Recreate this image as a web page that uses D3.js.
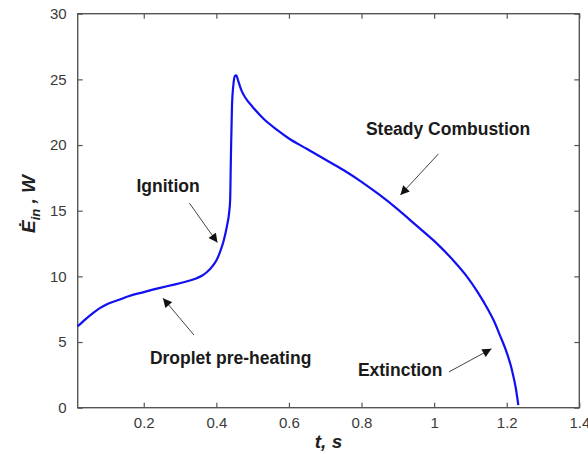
<!DOCTYPE html>
<html>
<head>
<meta charset="utf-8">
<script src="https://cdn.jsdelivr.net/npm/d3@7"></script>
<style>
  html, body { margin: 0; padding: 0; background: #fff; }
  svg { display: block; }
</style>
</head>
<body>
<script>
// Input power of a burning droplet over time
const timeS = [
  0.018, 0.04, 0.06, 0.08, 0.10, 0.13, 0.16, 0.20, 0.245, 0.28, 0.31, 0.34, 0.36, 0.375,
  0.39, 0.40, 0.41, 0.42, 0.429, 0.435, 0.438, 0.440, 0.443, 0.447, 0.451, 0.455,
  0.46, 0.47, 0.48, 0.50, 0.53, 0.57, 0.60, 0.65, 0.70, 0.75, 0.80, 0.85, 0.90, 0.95,
  1.00, 1.05, 1.09, 1.12, 1.15, 1.165, 1.18, 1.20, 1.215, 1.225, 1.232
];
const powerW = [
  6.2, 6.75, 7.2, 7.6, 7.9, 8.2, 8.5, 8.8, 9.12, 9.35, 9.55, 9.8, 10.05, 10.35,
  10.8, 11.2, 11.85, 12.7, 13.8, 14.8, 15.8, 18.9, 22.9, 24.6, 25.25, 25.3,
  24.9, 24.1, 23.6, 22.9, 22.0, 21.1, 20.5, 19.7, 18.9, 18.1, 17.2, 16.2, 15.1, 13.9,
  12.7, 11.3, 10.0, 8.8, 7.4, 6.6, 5.6, 4.2, 2.8, 1.5, 0.2
];

const xTicks = [0.2, 0.4, 0.6, 0.8, 1.0, 1.2, 1.4];
const yTicks = [0, 5, 10, 15, 20, 25, 30];
const xDomain = [0.018, 1.4];
const yDomain = [0, 30];

// Phase labels with arrow [tail, head] in data units
const phaseLabels = ["Ignition", "Steady Combustion", "Droplet pre-heating", "Extinction"];
const labelAt = [[0.18, 16.45], [0.812, 20.75], [0.217, 3.3], [0.79, 2.45]];
const arrowFrom = [[0.326, 15.57], [1.012, 19.33], [0.338, 5.54], [1.041, 2.73]];
const arrowTo = [[0.403, 12.57], [0.907, 16.2], [0.253, 8.34], [1.158, 4.48]];

const W = 588, H = 454;
const margin = { left: 77.7, right: W - 579.3, top: 13.7, bottom: H - 407.7 };

const svg = d3.select("body").append("svg")
  .attr("width", W).attr("height", H)
  .style("font-family", "'Liberation Sans', Arial, sans-serif");

const x = d3.scaleLinear().domain(xDomain).range([margin.left, W - margin.right]);
const y = d3.scaleLinear().domain(yDomain).range([H - margin.bottom, margin.top]);

const axisColor = "#555";
const tickColor = "#3a3a3a";
const tickLen = 5;

// Box frame with inward ticks on all four sides
function styleAxis(g) {
  g.select(".domain").remove();
  g.selectAll(".tick line").attr("stroke", axisColor).attr("stroke-width", 1.2);
  g.selectAll(".tick text").attr("fill", tickColor).style("font-size", "15px");
}

svg.append("g")
  .attr("transform", `translate(0,${y(0)})`)
  .call(d3.axisBottom(x).tickValues(xTicks).tickFormat(d3.format("~g"))
    .tickSizeInner(-tickLen).tickSizeOuter(0).tickPadding(10))
  .call(styleAxis);

svg.append("g")
  .attr("transform", `translate(0,${y(30)})`)
  .call(d3.axisTop(x).tickValues(xTicks).tickFormat("")
    .tickSizeInner(-tickLen).tickSizeOuter(0))
  .call(styleAxis);

svg.append("g")
  .attr("transform", `translate(${x(xDomain[0])},0)`)
  .call(d3.axisLeft(y).tickValues(yTicks).tickFormat(d3.format("~g"))
    .tickSizeInner(-tickLen).tickSizeOuter(0).tickPadding(11))
  .call(styleAxis);

svg.append("g")
  .attr("transform", `translate(${x(1.4)},0)`)
  .call(d3.axisRight(y).tickValues(yTicks).tickFormat("")
    .tickSizeInner(-tickLen).tickSizeOuter(0))
  .call(styleAxis);

svg.append("rect")
  .attr("x", x(xDomain[0])).attr("y", y(30))
  .attr("width", x(1.4) - x(xDomain[0])).attr("height", y(0) - y(30))
  .attr("fill", "none").attr("stroke", axisColor).attr("stroke-width", 1.4);

// Power curve
const pts = timeS.map((t, i) => [t, powerW[i]]);
const line = d3.line().x(d => x(d[0])).y(d => y(d[1])).curve(d3.curveMonotoneX);
svg.append("path")
  .datum(pts)
  .attr("d", line)
  .attr("fill", "none")
  .attr("stroke", "#1010f0")
  .attr("stroke-width", 2.2)
  .attr("stroke-linejoin", "round");

// Arrowhead marker
svg.append("defs").append("marker")
  .attr("id", "head")
  .attr("viewBox", "0 0 10 10")
  .attr("refX", 10).attr("refY", 5)
  .attr("markerUnits", "userSpaceOnUse")
  .attr("markerWidth", 11).attr("markerHeight", 9)
  .attr("orient", "auto")
  .append("path").attr("d", "M0,0 L10,5 L0,10 Z").attr("fill", "#111");

const notes = svg.append("g");
phaseLabels.forEach((txt, i) => {
  notes.append("line")
    .attr("x1", x(arrowFrom[i][0])).attr("y1", y(arrowFrom[i][1]))
    .attr("x2", x(arrowTo[i][0])).attr("y2", y(arrowTo[i][1]))
    .attr("stroke", "#444").attr("stroke-width", 1)
    .attr("marker-end", "url(#head)");
  notes.append("text")
    .attr("x", x(labelAt[i][0])).attr("y", y(labelAt[i][1]))
    .attr("fill", "#1a1a1a")
    .style("font-size", "17.5px").style("font-weight", "bold")
    .text(txt);
});

// Axis titles
svg.append("text")
  .attr("x", (x(xDomain[0]) + x(1.4)) / 2).attr("y", 448)
  .attr("text-anchor", "middle")
  .style("font-size", "19px").style("font-weight", "bold").style("font-style", "italic")
  .attr("fill", "#222")
  .text("t, s");

const yt = svg.append("text")
  .attr("transform", "translate(35,204) rotate(-90)")
  .attr("text-anchor", "middle")
  .style("font-size", "19px").style("font-weight", "bold").style("font-style", "italic")
  .attr("fill", "#222");
yt.append("tspan").text("\u0116");
yt.append("tspan").attr("dy", 5).style("font-size", "13px").text("in");
yt.append("tspan").attr("dy", -5).text(" , W");
</script>
</body>
</html>
